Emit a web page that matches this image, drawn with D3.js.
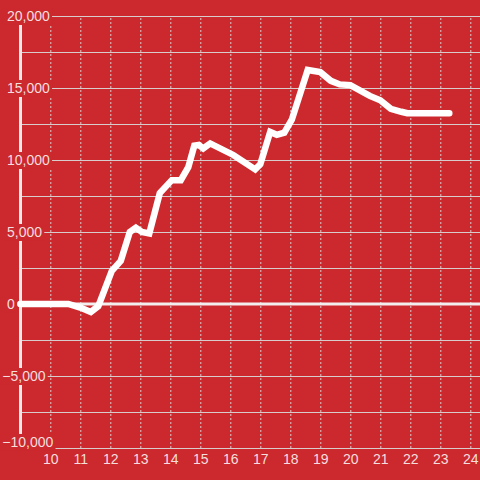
<!DOCTYPE html>
<html>
<head>
<meta charset="utf-8">
<script src="https://cdn.jsdelivr.net/npm/d3@7"></script>
<style>
  html, body { margin: 0; padding: 0; background: #cc292e; }
  svg { display: block; }
  text { font-family: "Liberation Sans", Arial, sans-serif; }
</style>
</head>
<body>
<svg id="chart" width="480" height="480"></svg>
<script>
// Data (hour of day, value)
const hours = [9.0, 10.6, 11.0, 11.35, 11.6, 12.05, 12.35, 12.65, 12.85, 13.05, 13.3,
  13.65, 14.05, 14.35, 14.6, 14.8, 14.95, 15.1, 15.33, 16.1, 16.83, 17.0, 17.33, 17.55,
  17.8, 18.05, 18.58, 19.0, 19.35, 19.65, 20.0, 20.65, 21.0, 21.35, 21.7, 21.9, 23.3];
const values = [0, 0, -250, -550, -150, 2300, 3000, 5000, 5300, 5000, 4900,
  7700, 8600, 8600, 9500, 11000, 11050, 10800, 11150, 10350, 9350, 9700, 11950, 11750,
  11900, 12800, 16250, 16100, 15500, 15250, 15200, 14450, 14150, 13550, 13350, 13250, 13250];
const xTicks = [10, 11, 12, 13, 14, 15, 16, 17, 18, 19, 20, 21, 22, 23, 24];
const yLabelTicks = [-10000, -5000, 0, 5000, 10000, 15000, 20000];
const yGridTicks = [-10000, -7500, -5000, -2500, 0, 2500, 5000, 7500, 10000, 12500, 15000, 17500, 20000];

const BG = "#cc292e";
const TEXT = "#f4dede";
const GRID = "#d8cccc";

const svg = d3.select("#chart");
svg.append("rect").attr("width", 480).attr("height", 480).attr("fill", BG);

const x = d3.scaleLinear().domain([9, 24]).range([20.3, 470.3]);
const y = d3.scaleLinear().domain([-10000, 20000]).range([448, 16]);

// horizontal grid
const yGrid = svg.append("g").attr("transform", "translate(20,0)")
  .call(d3.axisLeft(y).tickValues(yGridTicks).tickSize(-460).tickFormat(""));
yGrid.select(".domain").remove();
yGrid.selectAll("line").attr("stroke", GRID).attr("stroke-width", 1);

// vertical dashed grid
const xGrid = svg.append("g").attr("transform", "translate(0,448)")
  .call(d3.axisBottom(x).tickValues(xTicks).tickSize(-432).tickFormat(""));
xGrid.select(".domain").remove();
xGrid.selectAll("line").attr("stroke", GRID).attr("stroke-width", 1).attr("stroke-dasharray", "2,2");

// left axis bar
svg.append("line").attr("x1", 20.5).attr("x2", 20.5).attr("y1", 16).attr("y2", 448)
  .attr("stroke", "#eeeaea").attr("stroke-width", 3);

// zero line
svg.append("line").attr("x1", 20).attr("x2", 480).attr("y1", y(0)).attr("y2", y(0))
  .attr("stroke", "#f2eeee").attr("stroke-width", 3);

// data line
const data = hours.map((h, i) => ({ h, v: values[i] }));
svg.append("path").datum(data)
  .attr("fill", "none").attr("stroke", "#ffffff").attr("stroke-width", 6.5)
  .attr("stroke-linecap", "round").attr("stroke-linejoin", "miter")
  .attr("d", d3.line().x(d => x(d.h)).y(d => y(d.v)));

// y labels with background
const fmt = d3.format(",");
const yLab = svg.append("g")
  .call(d3.axisLeft(y).tickValues(yLabelTicks).tickSize(0).tickFormat(fmt));
yLab.select(".domain").remove();
yLab.selectAll("text")
  .attr("x", 7).attr("dx", d => d < 0 ? -4.7 : 0)
  .attr("y", d => d === -10000 ? -6 : 0)
  .attr("text-anchor", "start")
  .attr("fill", TEXT).attr("font-size", 14)
  .style("font-family", "'Liberation Sans', Arial, sans-serif");
yLab.selectAll(".tick").each(function () {
  const t = d3.select(this).select("text");
  const b = t.node().getBBox();
  d3.select(this).insert("rect", "text")
    .attr("x", b.x - 2).attr("y", b.y).attr("width", b.width + 4).attr("height", b.height + 1)
    .attr("fill", BG);
});

// x labels
const xLab = svg.append("g").attr("transform", "translate(0,448)")
  .call(d3.axisBottom(x).tickValues(xTicks).tickSize(0).tickPadding(6));
xLab.select(".domain").remove();
xLab.selectAll("text").attr("fill", TEXT).attr("font-size", 14)
  .style("font-family", "'Liberation Sans', Arial, sans-serif");
</script>
</body>
</html>
